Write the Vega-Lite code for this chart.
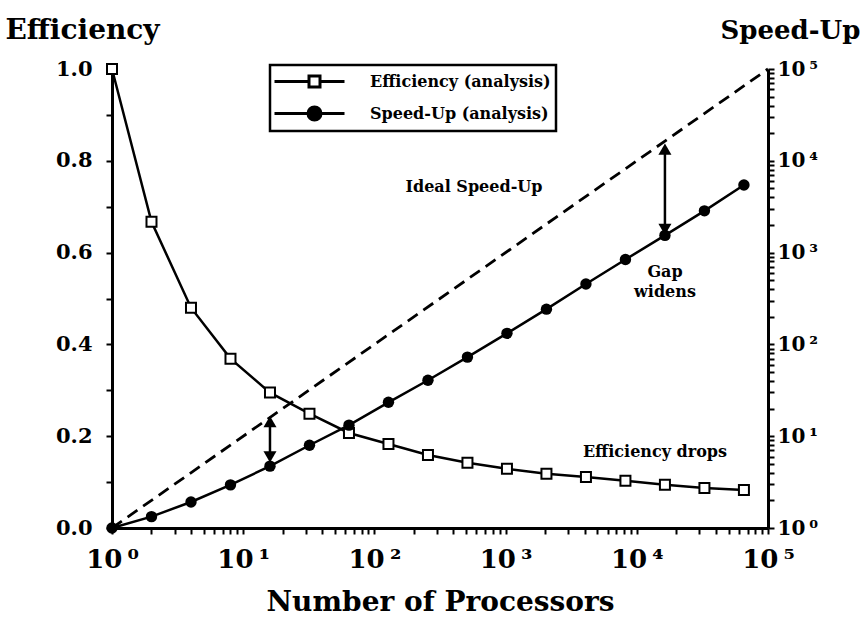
{
  "$schema": "https://vega.github.io/schema/vega-lite/v6.json",
  "width": 656,
  "height": 459,
  "autosize": "none",
  "padding": {"left": 112, "top": 69, "right": 97, "bottom": 98},
  "background": "white",
  "config": {
    "font": "DejaVu Serif",
    "view": {"stroke": null},
    "axis": {
      "labelFont": "DejaVu Serif", "titleFont": "DejaVu Serif",
      "labelFontWeight": "bold", "titleFontWeight": "bold",
      "labelColor": "black", "titleColor": "black",
      "domainColor": "black", "tickColor": "black",
      "domainWidth": 3, "tickWidth": 2, "grid": false,
      "labelOverlap": false, "labelFlush": false
    },
    "legend": {"strokeWidth": 2.5},
    "text": {"font": "DejaVu Serif", "fontWeight": "bold", "color": "black"}
  },
  "datasets": {
    "eff": [
      {"P": 1, "value": 1.0},
      {"P": 2, "value": 0.667},
      {"P": 4, "value": 0.48},
      {"P": 8, "value": 0.369},
      {"P": 16, "value": 0.295},
      {"P": 32, "value": 0.249},
      {"P": 64, "value": 0.207},
      {"P": 128, "value": 0.183},
      {"P": 256, "value": 0.159},
      {"P": 512, "value": 0.142},
      {"P": 1024, "value": 0.129},
      {"P": 2048, "value": 0.118},
      {"P": 4096, "value": 0.111},
      {"P": 8192, "value": 0.103},
      {"P": 16384, "value": 0.094},
      {"P": 32768, "value": 0.087},
      {"P": 65536, "value": 0.083}
    ],
    "spd": [
      {"P": 1, "value": 1},
      {"P": 2, "value": 1.33},
      {"P": 4, "value": 1.92},
      {"P": 8, "value": 2.95},
      {"P": 16, "value": 4.72},
      {"P": 32, "value": 7.97},
      {"P": 64, "value": 13.2},
      {"P": 128, "value": 23.4},
      {"P": 256, "value": 40.7},
      {"P": 512, "value": 72.7},
      {"P": 1024, "value": 132},
      {"P": 2048, "value": 242},
      {"P": 4096, "value": 455},
      {"P": 8192, "value": 841},
      {"P": 16384, "value": 1540},
      {"P": 32768, "value": 2851},
      {"P": 65536, "value": 5440}
    ],
    "legendRows": [
      {"P": 0.01, "value": 0.5, "series": "Efficiency (analysis)"},
      {"P": 0.01, "value": 0.5, "series": "Speed-Up (analysis)"}
    ],
    "ideal": [{"P": 1, "value": 1}, {"P": 100000, "value": 100000}],
    "arrows": [{"P": 16, "lo": 5.96, "hi": 14.4}, {"P": 16384, "lo": 1792, "hi": 13400}],
    "headsUp": [{"P": 16, "value": 14.4}, {"P": 16384, "value": 13400}],
    "headsDown": [{"P": 16, "value": 5.96}, {"P": 16384, "value": 1792}],
    "notes": [
      {"P": 574, "value": 0.743, "text": "Ideal Speed-Up"},
      {"P": 16400, "value": 0.558, "text": "Gap"},
      {"P": 16400, "value": 0.514, "text": "widens"},
      {"P": 13760, "value": 0.166, "text": "Efficiency drops"}
    ]
  },
  "encoding": {
    "x": {
      "field": "P", "type": "quantitative",
      "scale": {"type": "log", "domain": [1, 100000], "nice": false},
      "axis": {
        "title": "Number of Processors", "titleFontSize": 28, "titlePadding": 16,
        "labelFontSize": 26, "tickSize": 6, "labelPadding": 12,
        "values": [1,2,3,4,5,6,7,8,9,10,20,30,40,50,60,70,80,90,100,200,300,400,500,600,700,800,900,1000,2000,3000,4000,5000,6000,7000,8000,9000,10000,20000,30000,40000,50000,60000,70000,80000,90000,100000],
        "labelExpr": "indexof([1,10,100,1000,10000,100000], datum.value) >= 0 ? '10\u2009' + ['⁰','¹','²','³','⁴','⁵'][indexof([1,10,100,1000,10000,100000], datum.value)] : ''"
      }
    }
  },
  "layer": [
    {
      "encoding": {
        "y": {
          "field": "value", "type": "quantitative",
          "scale": {"domain": [0, 1], "nice": false, "zero": false},
          "axis": {
            "orient": "left", "title": "Efficiency", "titleAngle": 0,
            "titleAlign": "left", "titleBaseline": "alphabetic",
            "titleX": -107, "titleY": -31, "titleFontSize": 28,
            "labelFontSize": 21, "tickSize": 6, "labelPadding": 14,
            "values": [0,0.1,0.2,0.3,0.4,0.5,0.6,0.7,0.8,0.9,1.0],
            "labelExpr": "round(datum.value*10) % 2 == 0 ? format(datum.value, '.1f') : ''"
          }
        }
      },
      "layer": [
        {
          "data": {"name": "eff"},
          "mark": {"type": "line", "color": "black", "strokeWidth": 2.5}
        },
        {
          "data": {"name": "eff"},
          "mark": {"type": "point", "shape": "square", "fill": "white", "stroke": "black", "strokeWidth": 2, "size": 100, "opacity": 1, "filled": false}
        },
        {
          "data": {"name": "legendRows"},
          "mark": {"type": "point", "clip": true, "filled": true, "strokeWidth": 3, "opacity": 1},
          "encoding": {
            "fill": {
              "field": "series", "type": "nominal",
              "scale": {"domain": ["Efficiency (analysis)", "Speed-Up (analysis)"], "range": ["white", "black"]},
              "legend": {
                "title": null, "orient": "none", "legendX": 158, "legendY": -4,
                "symbolSize": 400, "symbolStrokeWidth": 3,
                "labelFont": "DejaVu Serif", "labelFontWeight": "bold", "labelFontSize": 16,
                "labelColor": "black", "labelOffset": 72, "rowPadding": 8, "padding": 5,
                "strokeColor": "black", "cornerRadius": 0, "labelLimit": 400
              }
            },
            "shape": {
              "field": "series", "type": "nominal",
              "scale": {"domain": ["Efficiency (analysis)", "Speed-Up (analysis)"], "range": ["M-1.2,0H2.25M3.35,0H5.8M2.25,-0.55H3.35V0.55H2.25Z", "M-1.2,0H5.8M2.15,0A0.65,0.65 0 1,0 3.45,0A0.65,0.65 0 1,0 2.15,0Z"]}
            },
            "stroke": {
              "field": "series", "type": "nominal",
              "scale": {"domain": ["Efficiency (analysis)", "Speed-Up (analysis)"], "range": ["black", "black"]}
            }
          }
        },
        {
          "data": {"name": "notes"},
          "mark": {"type": "text", "fontSize": 16, "align": "center", "baseline": "middle"},
          "encoding": {"text": {"field": "text"}}
        }
      ]
    },
    {
      "encoding": {
        "y": {
          "field": "value", "type": "quantitative",
          "scale": {"type": "log", "domain": [1, 100000], "nice": false},
          "axis": {
            "orient": "right", "title": "Speed-Up", "titleAngle": 0,
            "titleAlign": "left", "titleBaseline": "alphabetic",
            "titleX": -48, "titleY": -31, "titleFontSize": 26,
            "labelFontSize": 20, "tickSize": 6, "labelPadding": 3,
            "values": [1,2,3,4,5,6,7,8,9,10,20,30,40,50,60,70,80,90,100,200,300,400,500,600,700,800,900,1000,2000,3000,4000,5000,6000,7000,8000,9000,10000,20000,30000,40000,50000,60000,70000,80000,90000,100000],
            "labelExpr": "indexof([1,10,100,1000,10000,100000], datum.value) >= 0 ? '10\u2009' + ['⁰','¹','²','³','⁴','⁵'][indexof([1,10,100,1000,10000,100000], datum.value)] : ''"
          }
        }
      },
      "layer": [
        {
          "data": {"name": "ideal"},
          "mark": {"type": "line", "color": "black", "strokeWidth": 2.8, "strokeDash": [12, 7]}
        },
        {
          "data": {"name": "spd"},
          "mark": {"type": "line", "color": "black", "strokeWidth": 2.5}
        },
        {
          "data": {"name": "spd"},
          "mark": {"type": "point", "shape": "circle", "filled": true, "color": "black", "size": 130, "opacity": 1}
        },
        {
          "data": {"name": "arrows"},
          "mark": {"type": "rule", "color": "black", "strokeWidth": 2.5},
          "encoding": {"y": {"field": "lo", "type": "quantitative"}, "y2": {"field": "hi"}}
        },
        {
          "data": {"name": "headsUp"},
          "mark": {"type": "point", "shape": "triangle-up", "size": 170, "filled": true, "color": "black", "opacity": 1}
        },
        {
          "data": {"name": "headsDown"},
          "mark": {"type": "point", "shape": "triangle-down", "size": 170, "filled": true, "color": "black", "opacity": 1}
        }
      ]
    }
  ],
  "resolve": {"scale": {"y": "independent"}, "axis": {"y": "independent"}}
}
